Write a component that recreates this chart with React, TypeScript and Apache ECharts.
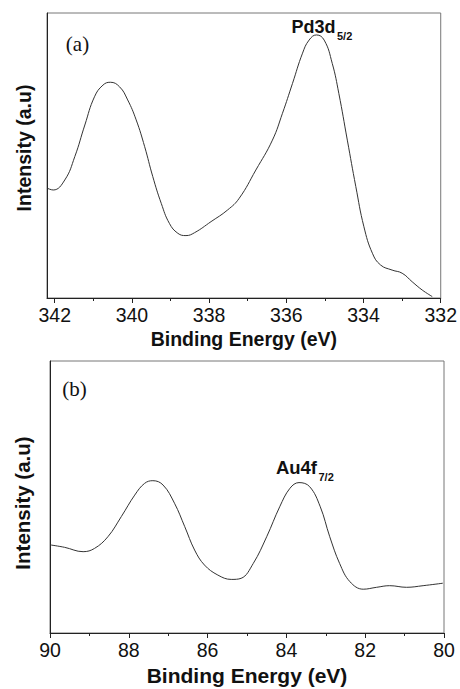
import React, { useEffect, useRef } from "react";
import * as echarts from "echarts";

// Panel (a): Pd 3d region
const paEnergy = [342.19, 342.04, 341.74, 341.48, 341.22, 340.97, 340.75, 340.56, 340.32, 340.11, 339.89, 339.67, 339.46, 339.24, 339.03, 338.81, 338.6, 338.38, 337.95, 337.52, 337.22, 336.79, 336.36, 336.1, 335.84, 335.58, 335.41, 335.22, 335.02, 334.81, 334.64, 334.42, 334.2, 333.99, 333.77, 333.56, 333.26, 333.0, 332.74, 332.48, 332.22];
const paIntensity = [38.5, 37.9, 41.4, 49.6, 60.7, 70.6, 74.7, 75.7, 74.1, 69.5, 62.5, 53.1, 42.6, 33.2, 26.2, 22.7, 21.9, 22.9, 26.8, 30.9, 35.0, 44.9, 55.4, 64.8, 75.3, 85.9, 90.5, 92.3, 90.5, 82.3, 71.8, 55.4, 39.1, 25.0, 15.7, 11.6, 9.8, 8.7, 5.7, 2.8, 0.5];
const paMajorTicks = [332, 334, 336, 338, 340, 342];
const paMinorTicks = [333, 335, 337, 339, 341];

// Panel (b): Au 4f region
const pbEnergy = [90.0, 89.63, 89.16, 88.87, 88.53, 88.19, 87.85, 87.6, 87.39, 87.13, 86.84, 86.58, 86.33, 86.08, 85.74, 85.4, 85.15, 84.84, 84.5, 84.17, 83.91, 83.68, 83.41, 83.14, 82.9, 82.65, 82.39, 82.05, 81.71, 81.38, 80.95, 80.53, 80.03];
const pbIntensity = [32.4, 31.5, 29.9, 31.1, 35.4, 42.8, 50.7, 55.0, 56.0, 54.4, 47.7, 39.1, 30.5, 25.0, 21.3, 19.7, 20.1, 25.6, 35.4, 46.4, 53.2, 55.3, 53.8, 46.4, 35.4, 25.6, 18.9, 16.1, 16.8, 17.4, 16.8, 17.4, 18.3];
const pbMajorTicks = [80, 82, 84, 86, 88, 90];
const pbMinorTicks = [81, 83, 85, 87, 89];

const xTitle = "Binding Energy (eV)";
const yTitle = "Intensity (a.u)";

const SANS = "'Liberation Sans', Arial, sans-serif";
const SERIF = "'Liberation Serif', 'Times New Roman', serif";

export default function App() {
  const ref = useRef<HTMLDivElement>(null);

  useEffect(() => {
    if (!ref.current) return;
    const chart = echarts.init(ref.current, undefined, { renderer: "svg" });

    const majorAxis = (grid: number, min: number, max: number, ticks: number[], nameSize: number, nameGap: number) => ({
      type: "value",
      gridIndex: grid,
      min,
      max,
      inverse: true,
      position: "bottom",
      name: xTitle,
      nameLocation: "middle",
      nameGap,
      nameTextStyle: { fontFamily: SANS, fontWeight: "bold", fontSize: nameSize, color: "#111" },
      axisLine: { show: true, lineStyle: { color: "#222", width: 1 } },
      axisTick: { show: true, customValues: ticks, length: 5, lineStyle: { color: "#222", width: 1 } },
      axisLabel: { show: true, customValues: ticks, margin: 7, fontFamily: SANS, fontSize: 19.5, color: "#111" },
      splitLine: { show: false },
    });
    const minorAxis = (grid: number, min: number, max: number, ticks: number[]) => ({
      type: "value",
      gridIndex: grid,
      min,
      max,
      inverse: true,
      position: "bottom",
      axisLine: { show: false },
      axisTick: { show: true, customValues: ticks, length: 3, lineStyle: { color: "#222", width: 1 } },
      axisLabel: { show: false },
      splitLine: { show: false },
    });
    const yAxis = (grid: number, nameSize: number, nameGap: number, padding: number[]) => ({
      type: "value",
      gridIndex: grid,
      min: 0,
      max: 100,
      name: yTitle,
      nameLocation: "middle",
      nameGap,
      nameTextStyle: { fontFamily: SANS, fontWeight: "bold", fontSize: nameSize, color: "#111", padding },
      axisLine: { show: true, lineStyle: { color: "#222", width: 1 } },
      axisTick: { show: false },
      axisLabel: { show: false },
      splitLine: { show: false },
    });

    const lineStyle = { color: "#333", width: 1 };

    chart.setOption({
      animation: false,
      backgroundColor: "#fff",
      grid: [
        { left: 47, top: 13, width: 395, height: 285, show: true, borderColor: "#777", borderWidth: 1 },
        { left: 50, top: 361, width: 394, height: 272, show: true, borderColor: "#777", borderWidth: 1 },
      ],
      xAxis: [
        majorAxis(0, 332, 342.2, paMajorTicks, 19.5, 31),
        minorAxis(0, 332, 342.2, paMinorTicks),
        majorAxis(1, 80, 90, pbMajorTicks, 21, 32),
        minorAxis(1, 80, 90, pbMinorTicks),
      ],
      yAxis: [yAxis(0, 19.5, 13, [0, 0, 0, 15]), yAxis(1, 20.5, 17, [0, 12, 0, 0])],
      series: [
        {
          type: "line",
          xAxisIndex: 0,
          yAxisIndex: 0,
          data: paEnergy.map((e, i) => [e, paIntensity[i]]),
          smooth: 0.45,
          showSymbol: false,
          lineStyle,
        },
        {
          type: "line",
          xAxisIndex: 2,
          yAxisIndex: 1,
          data: pbEnergy.map((e, i) => [e, pbIntensity[i]]),
          smooth: 0.4,
          showSymbol: false,
          lineStyle,
        },
      ],
      graphic: [
        { type: "text", x: 77.5, y: 44, style: { text: "(a)", font: `21px ${SERIF}`, fill: "#111", align: "center", verticalAlign: "middle" } },
        { type: "text", x: 74.5, y: 389, style: { text: "(b)", font: `21px ${SERIF}`, fill: "#111", align: "center", verticalAlign: "middle" } },
        { type: "text", x: 335.5, y: 27, style: { text: "Pd3d", font: `bold 18px ${SANS}`, fill: "#111", align: "right", verticalAlign: "middle" } },
        { type: "text", x: 337, y: 35.5, style: { text: "5/2", font: `bold 11px ${SANS}`, fill: "#111", align: "left", verticalAlign: "middle" } },
        { type: "text", x: 317, y: 467, style: { text: "Au4f", font: `bold 18.5px ${SANS}`, fill: "#111", align: "right", verticalAlign: "middle" } },
        { type: "text", x: 318.5, y: 477, style: { text: "7/2", font: `bold 11px ${SANS}`, fill: "#111", align: "left", verticalAlign: "middle" } },
      ],
    });

    return () => chart.dispose();
  }, []);

  return <div ref={ref} style={{ position: "absolute", left: 0, top: 0, width: 460, height: 689 }} />;
}
